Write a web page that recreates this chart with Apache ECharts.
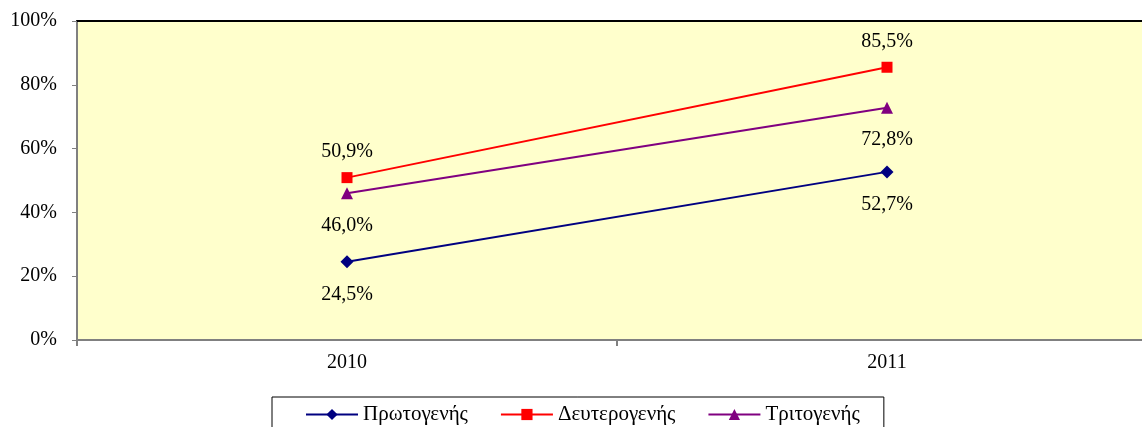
<!DOCTYPE html>
<html>
<head>
<meta charset="utf-8">
<script src="https://cdn.jsdelivr.net/npm/echarts@6/dist/echarts.min.js"></script>
<style>
html,body{margin:0;padding:0;background:#fff;overflow:hidden;}
#c{width:1157px;height:427px;}
</style>
</head>
<body>
<div id="c"></div>
<script>
var categories = ['2010', '2011'];
var seriesNames = ['Πρωτογενής', 'Δευτερογενής', 'Τριτογενής'];
var primary = [24.5, 52.7];
var secondary = [50.9, 85.5];
var tertiary = [46.0, 72.8];
var yTicks = [0, 20, 40, 60, 80, 100];

var FONT = 'Liberation Serif, Times New Roman, serif';
function fmt(p) { return p.value.toFixed(1).replace('.', ',') + '%'; }

var chart = echarts.init(document.getElementById('c'), null, {renderer: 'canvas'});
chart.setOption({
  animation: false,
  backgroundColor: '#ffffff',
  grid: {left: 77, top: 21, right: 0, bottom: 87, show: true, backgroundColor: '#FFFFCC', borderWidth: 0},
  legend: {
    data: seriesNames,
    left: 272, top: 397,
    orient: 'horizontal',
    padding: [7, 24, 20, 33],
    itemGap: 32,
    itemWidth: 52, itemHeight: 14,
    borderColor: '#000000', borderWidth: 1, borderRadius: 0,
    textStyle: {fontFamily: FONT, fontSize: 21, color: '#000'}
  },
  xAxis: [{
    type: 'category',
    data: categories,
    boundaryGap: true,
    axisLine: {lineStyle: {color: '#808080', width: 2}},
    axisTick: {show: true, length: 6, lineStyle: {color: '#808080', width: 2}},
    axisLabel: {fontFamily: FONT, fontSize: 20, color: '#000', margin: 13},
    splitLine: {show: false}
  }, {
    type: 'category',
    data: categories,
    position: 'top',
    axisLine: {lineStyle: {color: '#000000', width: 2}},
    axisTick: {show: false},
    axisLabel: {show: false},
    splitLine: {show: false}
  }],
  yAxis: {
    type: 'value',
    min: yTicks[0], max: yTicks[yTicks.length - 1], interval: 20,
    axisLine: {show: true, lineStyle: {color: '#808080', width: 2}},
    axisTick: {show: true, inside: false, length: 5, lineStyle: {color: '#808080', width: 1}},
    axisLabel: {fontFamily: FONT, fontSize: 20, color: '#000', margin: 20, formatter: function (v) { return v + '%'; }},
    splitLine: {show: false}
  },
  series: [{
    name: seriesNames[0], type: 'line', data: primary,
    symbol: 'diamond', symbolSize: 13,
    itemStyle: {color: '#000080'}, lineStyle: {color: '#000080', width: 2},
    label: {show: true, position: 'bottom', distance: 16, formatter: fmt, fontFamily: FONT, fontSize: 20, color: '#000'}
  }, {
    name: seriesNames[1], type: 'line', data: secondary,
    symbol: 'rect', symbolSize: 11,
    itemStyle: {color: '#FF0000'}, lineStyle: {color: '#FF0000', width: 2},
    label: {show: true, position: 'top', distance: 10, formatter: fmt, fontFamily: FONT, fontSize: 20, color: '#000'}
  }, {
    name: seriesNames[2], type: 'line', data: tertiary,
    symbol: 'triangle', symbolSize: 12,
    itemStyle: {color: '#800080'}, lineStyle: {color: '#800080', width: 2},
    label: {show: true, position: 'bottom', distance: 16, formatter: fmt, fontFamily: FONT, fontSize: 20, color: '#000'}
  }]
});
</script>
</body>
</html>
